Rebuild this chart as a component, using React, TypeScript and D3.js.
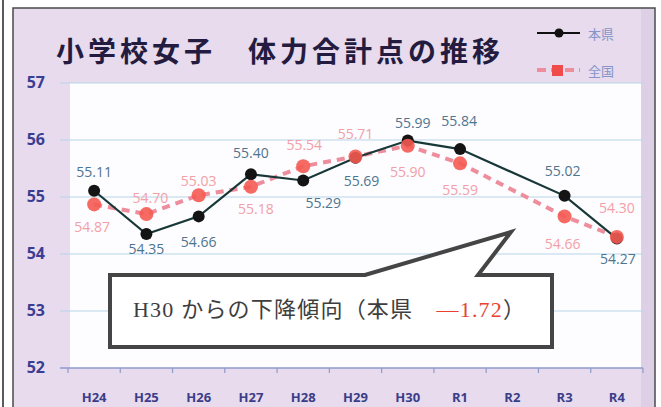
import React from "react";
import * as d3 from "d3";

const categories = ["H24", "H25", "H26", "H27", "H28", "H29", "H30", "R1", "R2", "R3", "R4"];
const prefValues: (number | null)[] = [55.11, 54.35, 54.66, 55.4, 55.29, 55.69, 55.99, 55.84, null, 55.02, 54.27];
const natValues: (number | null)[] = [54.87, 54.7, 55.03, 55.18, 55.54, 55.71, 55.9, 55.59, null, 54.66, 54.3];
const yTicks = [52, 53, 54, 55, 56, 57];
const seriesNames = ["本県", "全国"];
const titleText = "小学校女子　体力合計点の推移";

// label placement (offsets from point, style only)
const prefLabelOffsets: ([number, number] | null)[] = [[0, -19], [0, 14], [0, 25], [0, -22], [20, 22], [6, 23], [5, -18], [-1, -29], null, [-2, -25], [1, 20]];
const natLabelOffsets: ([number, number] | null)[] = [[-2, 22], [4, -17], [0, -15], [5, 22], [1, -22], [0, -23], [0, 26], [0, 26], null, [-2, 27], [0, -29]];

const W = 661;
const H = 407;

export default function App() {
  const x = d3.scaleBand<string>().domain(categories).range([68, 643]).paddingInner(0).paddingOuter(0);
  const y = d3.scaleLinear().domain([52, 57]).range([368, 83]);
  const cx = (c: string) => (x(c) as number) + x.bandwidth() / 2;

  const prefPts = categories
    .map((c, i) => ({ c, v: prefValues[i], i }))
    .filter((d) => d.v !== null) as { c: string; v: number; i: number }[];
  const natPts = categories
    .map((c, i) => ({ c, v: natValues[i], i }))
    .filter((d) => d.v !== null) as { c: string; v: number; i: number }[];

  const line = d3
    .line<{ c: string; v: number }>()
    .x((d) => cx(d.c))
    .y((d) => y(d.v));

  const boundaries = d3.range(categories.length + 1).map((i) => 68 + i * x.step());

  const labelFont = "'Open Sans', 'Liberation Sans', sans-serif";

  return (
    <svg width={W} height={H} style={{ position: "absolute", left: 0, top: 0, background: "#fff" }}>
      {/* outer left line */}
      <line x1={3} y1={0} x2={3} y2={H} stroke="#5a5a5a" strokeWidth={2} />
      {/* chart frame */}
      <rect x={13} y={8} width={642} height={H} fill="#e7dbed" stroke="#4a4a4a" strokeWidth={1.5} />
      <rect x={641} y={9} width={13} height={H} fill="#dccfe6" />
      {/* plot area */}
      <rect x={70} y={y(57)} width={571} height={y(52) - y(57)} fill="#fdfcfe" />

      {/* title */}
      <text
        x={56}
        y={62}
        fontFamily="'Noto Sans CJK JP', sans-serif"
        fontWeight={700}
        fontSize={28}
        fill="#231c40"
        textLength={444}
        lengthAdjust="spacing"
      >
        {titleText}
      </text>

      {/* legend */}
      <g>
        <line x1={537} y1={33} x2={580} y2={33} stroke="#111" strokeWidth={2} />
        <circle cx={559} cy={33} r={4.5} fill="#111" />
        <text x={588} y={33} dominantBaseline="central" fontFamily="'Noto Sans CJK JP', sans-serif" fontSize={13} fill="#8595c8">
          {seriesNames[0]}
        </text>
        <line x1={537} y1={70} x2={580} y2={70} stroke="#ee8e9c" strokeWidth={4} strokeDasharray="9 5" />
        <rect x={552} y={65} width={11} height={11} fill="#f04a4a" />
        <text x={588} y={70} dominantBaseline="central" fontFamily="'Noto Sans CJK JP', sans-serif" fontSize={13} fill="#8595c8">
          {seriesNames[1]}
        </text>
      </g>

      {/* gridlines */}
      {yTicks
        .filter((t) => t !== 52)
        .map((t) => (
          <line key={t} x1={60} x2={643} y1={y(t)} y2={y(t)} stroke="#b7d5e8" strokeWidth={1} />
        ))}
      {/* x axis */}
      <line x1={60} x2={643} y1={y(52)} y2={y(52)} stroke="#8f9bcc" strokeWidth={1.5} />
      {boundaries.map((b, i) => (
        <line key={i} x1={b} x2={b} y1={y(52)} y2={y(52) + 5} stroke="#8f9bcc" strokeWidth={1.2} />
      ))}

      {/* y tick labels */}
      {yTicks.map((t) => (
        <text
          key={t}
          x={45}
          y={y(t) - 1}
          textAnchor="end"
          dominantBaseline="central"
          fontFamily={labelFont}
          fontWeight={700}
          fontSize={16}
          fill="#3b3d92"
        >
          {t}
        </text>
      ))}
      {/* x tick labels */}
      {categories.map((c) => (
        <text
          key={c}
          x={cx(c)}
          y={397}
          textAnchor="middle"
          dominantBaseline="central"
          fontFamily={labelFont}
          fontWeight={700}
          fontSize={13}
          fill="#3b3d88"
        >
          {c}
        </text>
      ))}

      {/* national series line */}
      <path d={line(natPts) || ""} fill="none" stroke="#ee8e9c" strokeWidth={4} strokeDasharray="8 6" />
      {/* prefecture series */}
      <path d={line(prefPts) || ""} fill="none" stroke="#183838" strokeWidth={2.2} />
      {prefPts.map((d) => (
        <circle key={d.c} cx={cx(d.c)} cy={y(d.v)} r={6} fill="#141414" />
      ))}
      {/* national markers */}
      {natPts.map((d) => (
        <circle key={d.c} cx={cx(d.c)} cy={y(d.v)} r={7} fill="#f45a52" opacity={0.9} />
      ))}

      {/* national labels */}
      {natPts.map((d) => {
        const o = natLabelOffsets[d.i] || [0, 0];
        return (
          <text
            key={d.c}
            x={cx(d.c) + o[0]}
            y={y(d.v) + o[1]}
            textAnchor="middle"
            dominantBaseline="central"
            fontFamily={labelFont}
            fontSize={14}
            fill="#f2a0a8"
          >
            {d.v.toFixed(2)}
          </text>
        );
      })}
      {/* prefecture labels */}
      {prefPts.map((d) => {
        const o = prefLabelOffsets[d.i] || [0, 0];
        return (
          <text
            key={d.c}
            x={cx(d.c) + o[0]}
            y={y(d.v) + o[1]}
            textAnchor="middle"
            dominantBaseline="central"
            fontFamily={labelFont}
            fontSize={14}
            fill="#4d7590"
          >
            {d.v.toFixed(2)}
          </text>
        );
      })}

      {/* callout */}
      <path
        d="M110,275 L365,275 L511,232 L478,275 L552,275 L552,347 L110,347 Z"
        fill="#fff"
        stroke="#454545"
        strokeWidth={4}
        strokeLinejoin="miter"
      />
      <text
        x={133}
        y={317}
        fontFamily="'Liberation Serif', 'Noto Sans CJK JP', serif"
        fontSize={22}
        fill="#3e3e3e"
        textLength={392}
        lengthAdjust="spacing"
      >
        H30 からの下降傾向（本県　<tspan fill="#e8432e">—1.72</tspan>）
      </text>
    </svg>
  );
}
